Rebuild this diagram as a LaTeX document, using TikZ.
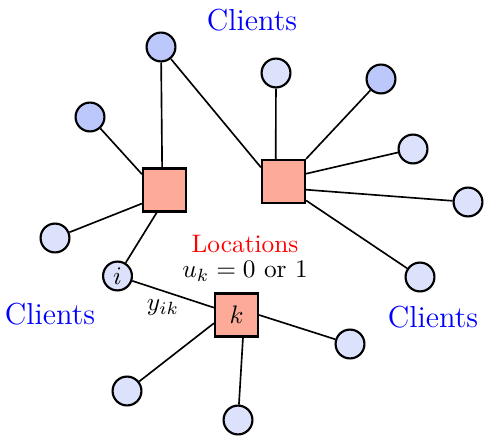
\documentclass[tikz,border=0pt]{standalone}
\usetikzlibrary{backgrounds}
\definecolor{cdark}{RGB}{188,200,252}
\definecolor{clight}{RGB}{221,226,252}
\definecolor{loc}{RGB}{254,170,152}
\begin{document}
\begin{tikzpicture}[x=0.395pt,y=-0.395pt,
  client/.style={circle,draw=black,line width=0.85pt,minimum size=11.4pt,inner sep=0pt},
  dk/.style={client,fill=cdark},
  lt/.style={client,fill=clight},
  fac/.style={rectangle,draw=black,line width=0.85pt,fill=loc,minimum size=17pt,inner sep=0pt},
  edge/.style={line width=0.65pt},
  clab/.style={text=blue,font=\large},
]
\useasboundingbox (0,0) rectangle (485,437);
% facilities
\node[fac] (f1) at (164.5,190) {};
\node[fac] (f2) at (283.5,181.5) {};
\node[fac] (k) at (236.5,315) {$k$};
% clients
\node[dk] (c1) at (161,47) {};
\node[dk] (c2) at (90,117) {};
\node[lt] (c3) at (55,238) {};
\node[lt] (i) at (117.5,276) {$i$};
\node[lt] (c4) at (276,73) {};
\node[dk] (c5) at (381,79) {};
\node[lt] (c6) at (413,149) {};
\node[lt] (c7) at (468,202) {};
\node[lt] (c8) at (420,277) {};
\node[lt] (c9) at (350,344) {};
\node[lt] (c10) at (127,391) {};
\node[lt] (c11) at (238,420) {};
% labels
\node[clab] (t1) at (252,20) {Clients};
\node[clab] (t2) at (50,314) {Clients};
\node[clab] (t3) at (433,317) {Clients};
\node[text=red] (t4) at (245,244) {Locations};
\node (t5) at (245,271) {$u_k = 0$ or $1$};
\node (y) at (163,308) {$y_{ik}$};
\begin{scope}[on background layer]
\draw[edge] (f1.96) -- (c1);
\draw[edge] (f1.145) -- (c2);
\draw[edge] (f1.-149) -- (c3);
\draw[edge] (f1.-109) -- (i);
\draw[edge] (c1) -- (f2.148);
\draw[edge] (f2.109) -- (c4);
\draw[edge] (f2.north east) -- (c5);
\draw[edge] (f2.19) -- (c6);
\draw[edge] (f2.-20) -- (c7);
\draw[edge] (f2.-40) -- (c8);
\draw[edge] (i) -- (k.162);
\draw[edge] (k.0) -- (c9);
\draw[edge] (k.-160) -- (c10);
\draw[edge] (k.-74) -- (c11);
\end{scope}
\end{tikzpicture}
\end{document}
